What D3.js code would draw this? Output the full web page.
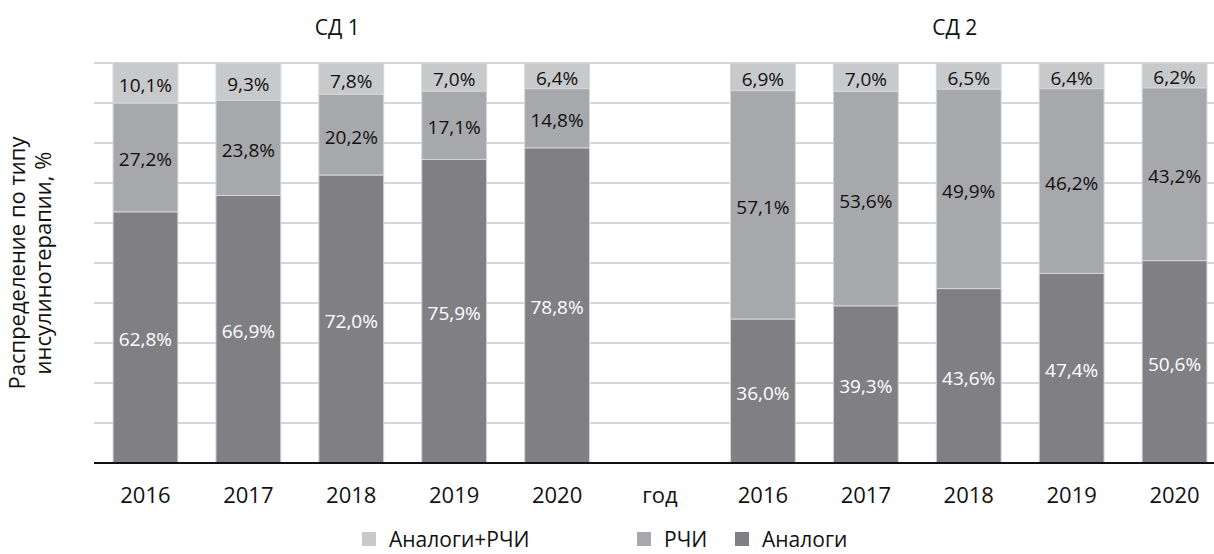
<!DOCTYPE html>
<html lang="ru">
<head>
  <meta charset="UTF-8">
  <title>Распределение по типу инсулинотерапии</title>
  <script src="https://d3js.org/d3.v7.min.js"></script>
  <style>
    body { margin: 0; background: #fff; font-family: "Open Sans", sans-serif; }
    svg { display: block; }
  </style>
</head>
<body>
  <svg width="1214" height="554"></svg>
  <script>
    // категории по оси X (пустой разделитель "год" между группами)
    const categories = ["2016-1", "2017-1", "2018-1", "2019-1", "2020-1", "gap",
                        "2016-2", "2017-2", "2018-2", "2019-2", "2020-2"];
    const tickLabels = ["2016", "2017", "2018", "2019", "2020", "год",
                        "2016", "2017", "2018", "2019", "2020"];
    const seriesNames = ["Аналоги", "РЧИ", "Аналоги+РЧИ"];

    const analogi    = [62.8, 66.9, 72.0, 75.9, 78.8, null, 36.0, 39.3, 43.6, 47.4, 50.6];
    const rchi       = [27.2, 23.8, 20.2, 17.1, 14.8, null, 57.1, 53.6, 49.9, 46.2, 43.2];
    const analogiRchi = [10.1, 9.3, 7.8, 7.0, 6.4, null, 6.9, 7.0, 6.5, 6.4, 6.2];

    const colors = { "Аналоги": "#808084", "РЧИ": "#a7a8ab", "Аналоги+РЧИ": "#c8c9cb" };
    const textColors = { "Аналоги": "#fff", "РЧИ": "#111", "Аналоги+РЧИ": "#111" };

    const svg = d3.select("svg");
    const margin = { top: 63, bottom: 91, left: 94 };
    const height = 554;

    const x = d3.scaleBand().domain(categories).range([94, 1226]).paddingInner(0.37).paddingOuter(0.185);
    const y = d3.scaleLinear().domain([0, 100]).range([height - margin.bottom, margin.top]);

    const rows = categories.map((c, i) => ({
      cat: c, "Аналоги": analogi[i], "РЧИ": rchi[i], "Аналоги+РЧИ": analogiRchi[i]
    })).filter(d => d["Аналоги"] != null);

    const stack = d3.stack().keys(seriesNames);
    const series = stack(rows);

    // сетка
    svg.append("g")
      .selectAll("line")
      .data(d3.range(10, 101, 10))
      .join("line")
      .attr("x1", 94).attr("x2", 1214)
      .attr("y1", d => y(d)).attr("y2", d => y(d))
      .attr("stroke", "#c9c9c9").attr("stroke-width", 1.5);

    // столбцы
    const layers = svg.append("g").selectAll("g")
      .data(series)
      .join("g")
      .attr("fill", d => colors[d.key]);

    layers.selectAll("rect")
      .data(d => d)
      .join("rect")
      .attr("x", d => x(d.data.cat))
      .attr("width", x.bandwidth())
      .attr("y", d => y(d[1]))
      .attr("height", d => y(d[0]) - y(d[1]))
      .attr("stroke", "#d6d6d8")
      .attr("stroke-width", 1);

    // подписи значений
    series.forEach(s => {
      svg.append("g").selectAll("text")
        .data(s)
        .join("text")
        .attr("x", d => x(d.data.cat) + x.bandwidth() / 2)
        .attr("y", d => (y(d[0]) + y(d[1])) / 2 + 2)
        .attr("text-anchor", "middle")
        .attr("dominant-baseline", "central")
        .attr("font-size", 19)
        .attr("fill", textColors[s.key])
        .text(d => d.data[s.key].toFixed(1).replace(".", ",") + "%");
    });

    // ось X
    svg.append("line")
      .attr("x1", 94).attr("x2", 1214)
      .attr("y1", y(0)).attr("y2", y(0))
      .attr("stroke", "#111").attr("stroke-width", 2);

    svg.append("g").selectAll("text")
      .data(categories)
      .join("text")
      .attr("x", d => x(d) + x.bandwidth() / 2)
      .attr("y", y(0) + 31)
      .attr("text-anchor", "middle")
      .attr("dominant-baseline", "central")
      .attr("font-size", 22)
      .attr("fill", "#111")
      .text((d, i) => tickLabels[i]);

    // заголовки групп
    const groupTitles = [["СД 1", "2018-1"], ["СД 2", "2018-2"]];
    svg.append("g").selectAll("text")
      .data(groupTitles)
      .join("text")
      .attr("x", d => x(d[1]) + x.bandwidth() / 2 - 14)
      .attr("y", 27)
      .attr("text-anchor", "middle")
      .attr("dominant-baseline", "central")
      .attr("font-size", 21)
      .attr("fill", "#111")
      .text(d => d[0]);

    // подпись оси Y
    const yTitle = svg.append("text")
      .attr("transform", `translate(33, ${(y(0) + y(100)) / 2}) rotate(-90)`)
      .attr("text-anchor", "middle")
      .attr("font-size", 22)
      .attr("fill", "#111");
    yTitle.append("tspan").attr("x", 0).attr("dy", "-0.35em").text("Распределение по типу");
    yTitle.append("tspan").attr("x", 0).attr("dy", "1.15em").text("инсулинотерапии, %");

    // легенда
    const legendItems = [["Аналоги+РЧИ", 362], ["РЧИ", 637], ["Аналоги", 735]];
    const leg = svg.append("g").selectAll("g")
      .data(legendItems)
      .join("g")
      .attr("transform", d => `translate(${d[1]}, 539)`);
    leg.append("rect")
      .attr("x", 0).attr("y", -7).attr("width", 14).attr("height", 14)
      .attr("fill", d => colors[d[0]]);
    leg.append("text")
      .attr("x", 27).attr("y", 0)
      .attr("dominant-baseline", "central")
      .attr("font-size", 21)
      .attr("fill", "#111")
      .text(d => d[0]);
  </script>
</body>
</html>
